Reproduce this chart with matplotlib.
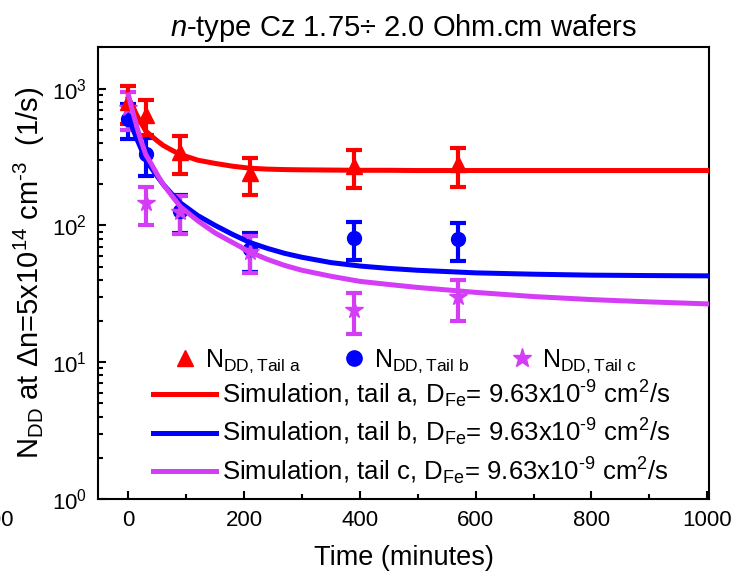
import matplotlib
matplotlib.use("Agg")
import matplotlib.pyplot as plt
from matplotlib.lines import Line2D
from matplotlib.ticker import LogLocator, MultipleLocator, NullFormatter

plt.rcParams["font.family"] = ["Liberation Sans", "DejaVu Sans"]
plt.rcParams["mathtext.fontset"] = "custom"
plt.rcParams["mathtext.rm"] = "Liberation Sans"
plt.rcParams["mathtext.it"] = "Liberation Sans:italic"
plt.rcParams["mathtext.bf"] = "Liberation Sans:bold"

RED = "#FF0000"
BLUE = "#0000FF"
VIOLET = "#D43DF5"

# measured N_DD (1/s) with error bars
time_meas = [0, 30, 90, 210, 390, 570]
tail_a = [800, 640, 345, 240, 272, 280]
tail_a_err = [250, 180, 108, 72, 85, 88]
tail_b = [600, 333, 128, 67, 81, 80]
tail_b_err = [175, 102, 40, 21, 25, 25]
tail_c = [720, 146, 125, 64, 24, 30]
tail_c_err = [220, 45, 38, 19, 8, 10]

# simulation curves
time_sim = [0, 5, 10, 15, 20, 30, 40, 50, 60, 75, 90, 120, 150, 180, 210, 240,
            270, 300, 350, 400, 450, 500, 560, 600, 700, 800, 900, 1000]
sim_a = [850, 770, 700, 635, 580, 490, 450, 415, 385, 355, 330, 300, 284, 271,
         262, 258, 256, 255, 254, 253, 253, 252, 252, 252, 252, 252, 252, 252]
sim_b = [620, 545, 480, 425, 380, 300, 262, 228, 200, 170, 146, 118, 100, 86,
         75, 68, 62.5, 58.5, 53.5, 50.5, 48.5, 47, 45.8, 45, 44, 43.3, 43, 42.8]
sim_c = [900, 740, 620, 520, 440, 330, 280, 235, 200, 165, 137, 108, 88, 75,
         64, 56.5, 51, 47, 42.5, 39, 37, 35.2, 33.5, 32.4, 30.2, 28.7, 27.6, 26.7]

d_label = r"D$_{\rm Fe}$= 9.63x10$^{\text{-9}}$ cm$^{\rm 2}$/s"
sim_labels = [f"Simulation, tail {t}, " + d_label for t in "abc"]

fig = plt.figure(figsize=(7.4, 5.79), dpi=100)
ax = fig.add_axes([0.1328, 0.1382, 0.8252, 0.7798])

eb_kw = dict(ls="none", elinewidth=3, capsize=6, capthick=3, zorder=2)
ax.errorbar(time_meas, tail_b, yerr=tail_b_err, color=BLUE, marker="o", ms=10, **eb_kw)
ax.errorbar(time_meas, tail_c, yerr=tail_c_err, color=VIOLET, marker="*", ms=13, **eb_kw)
ax.errorbar(time_meas, tail_a, yerr=tail_a_err, color=RED, marker="^", ms=11, **eb_kw)

ax.plot(time_sim, sim_a, color=RED, lw=3.6, zorder=3)
ax.plot(time_sim, sim_b, color=BLUE, lw=3.6, zorder=3)
ax.plot(time_sim, sim_c, color=VIOLET, lw=3.6, zorder=3)

ax.set_yscale("log")
ax.set_xlim(-52, 1003)
ax.set_ylim(1, 2000)
ax.xaxis.set_major_locator(MultipleLocator(200))
ax.xaxis.set_minor_locator(MultipleLocator(100))
ax.yaxis.set_major_locator(LogLocator(base=10))
ax.yaxis.set_minor_locator(LogLocator(base=10, subs=range(2, 10)))
ax.yaxis.set_minor_formatter(NullFormatter())
ax.tick_params(which="both", direction="in", width=1.5, labelsize=16,
               top=False, right=False)
ax.tick_params(which="major", length=6, pad=8)
ax.tick_params(which="minor", length=3.5)
for sp in ax.spines.values():
    sp.set_linewidth(1.5)

ax.set_xlabel("Time (minutes)", fontsize=19.5, labelpad=10)
ax.set_ylabel(r"N$_{\rm DD}$ at $\Delta$n=5x10$^{\rm 14}$ cm$^{\text{-3}}$  (1/s)",
              fontsize=21, labelpad=4)
ax.set_title(r"$\it{n}$-type Cz 1.75÷ 2.0 Ohm.cm wafers", fontsize=21, pad=8)

# partially visible tick label at the left edge
fig.text(13 / 740, 1 - 520 / 579, "-200", fontsize=16, ha="right", va="center")

marker_handles = [
    Line2D([], [], ls="none", marker="^", color=RED, ms=12),
    Line2D([], [], ls="none", marker="o", color=BLUE, ms=11),
    Line2D([], [], ls="none", marker="*", color=VIOLET, ms=14),
]
marker_labels = [r"N$_{\rm DD,Tail\ a}$", r"N$_{\rm DD,Tail\ b}$", r"N$_{\rm DD,Tail\ c}$"]
leg1 = ax.legend(marker_handles, marker_labels, ncol=3, frameon=False, fontsize=18,
                 loc="center left", bbox_to_anchor=(0.1215, 0.305),
                 handlelength=1.0, handletextpad=0.3, columnspacing=1.6,
                 borderaxespad=0, borderpad=0)
ax.add_artist(leg1)

line_handles = [Line2D([], [], color=c, lw=3.6) for c in (RED, BLUE, VIOLET)]
ax.legend(line_handles, sim_labels, frameon=False, fontsize=18.5,
          loc="lower left", bbox_to_anchor=(0.0896, 0.027),
          handlelength=2.45, handletextpad=0.24, labelspacing=0.28,
          borderaxespad=0, borderpad=0)

fig.savefig("out.png", dpi=100)
